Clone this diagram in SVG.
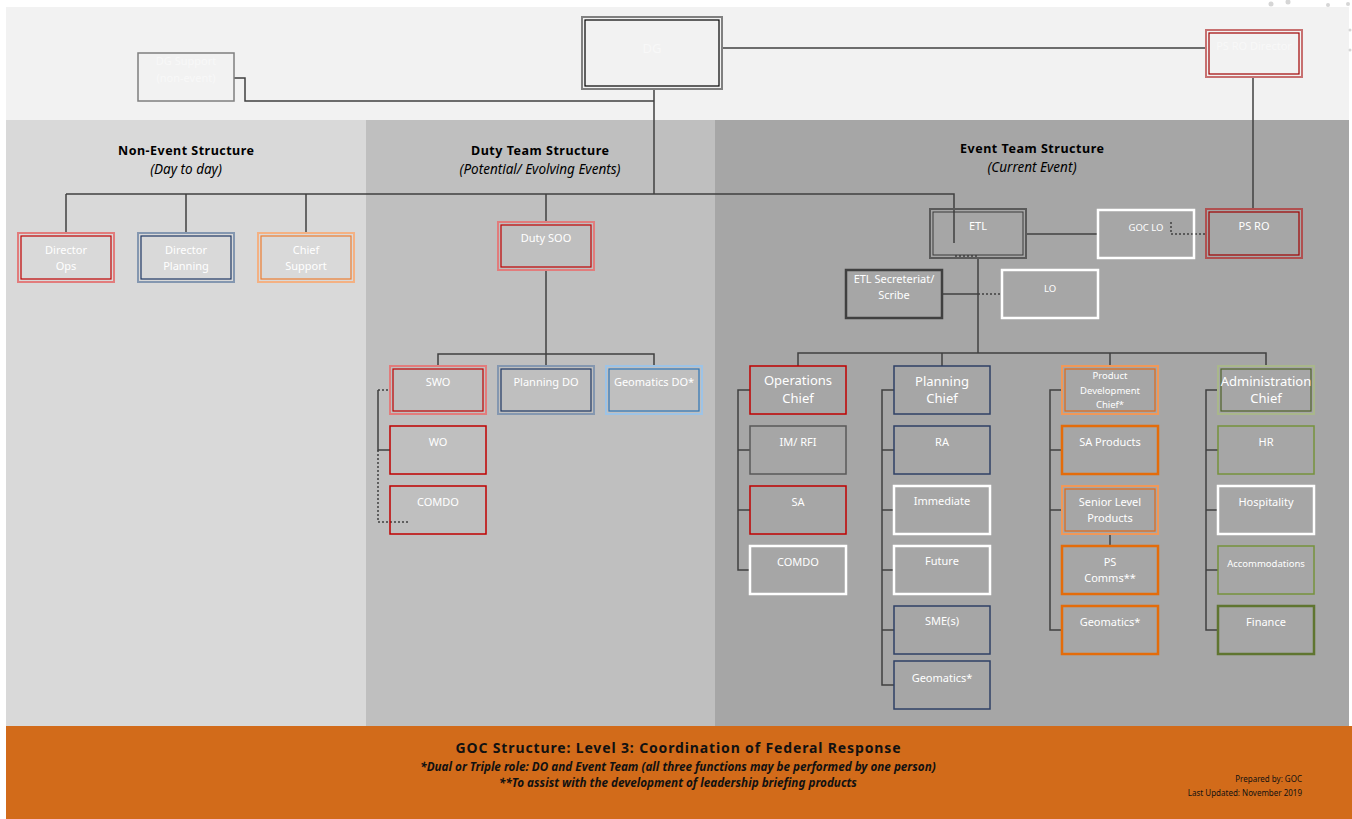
<svg xmlns="http://www.w3.org/2000/svg" width="1352" height="819" viewBox="0 0 1352 819">
<style>
  .lbl{font-family:"Noto Sans","Open Sans",sans-serif;font-size:11px;fill:#ffffff;text-anchor:middle}
  .big{font-size:13px}
  .sm{font-size:9.5px}
  .hd{font-family:"Noto Sans","Open Sans",sans-serif;font-size:12.5px;font-weight:bold;fill:#000;text-anchor:middle}
  .hi{font-family:"Noto Sans","Open Sans",sans-serif;font-size:13.5px;font-style:italic;fill:#000;text-anchor:middle}
  .ft{font-family:"Noto Sans","Open Sans",sans-serif;fill:#111;text-anchor:middle;font-weight:bold}
  .fr{font-family:"Noto Sans","Open Sans",sans-serif;fill:#111;text-anchor:end;font-size:8px}
  .ln{stroke:#404040;stroke-width:1.5;fill:none}
  .dot{stroke:#404040;stroke-width:1.5;stroke-dasharray:2 2;fill:none}
  rect{fill:none}
  .redO{stroke:#e27c7c;stroke-width:2}   .redI{stroke:#c00000;stroke-width:1.2}
  .navO{stroke:#8497b0;stroke-width:2}   .navI{stroke:#1f3864;stroke-width:1.2}
  .orgO{stroke:#f4b183;stroke-width:2}   .orgI{stroke:#ed7d31;stroke-width:1.2}
  .bluO{stroke:#9dc3e6;stroke-width:2}   .bluI{stroke:#2e75b6;stroke-width:1.2}
  .oliO{stroke:#a9b78b;stroke-width:2}   .oliI{stroke:#4f6228;stroke-width:1.2}
  .red{stroke:#c00000;stroke-width:1.5}
  .nav{stroke:#2f4066;stroke-width:1.5}
  .gry{stroke:#595959;stroke-width:1.5}
  .wht{stroke:#ffffff;stroke-width:2.5}
  .org{stroke:#e46c0a;stroke-width:2.5}
  .oli{stroke:#76923c;stroke-width:1.5}
</style>

<!-- page background and bands -->
<rect x="0" y="0" width="1352" height="819" style="fill:#ffffff"/>
<rect x="6" y="7" width="1343" height="114" style="fill:#f2f2f2"/>
<rect x="6" y="120" width="360" height="606" style="fill:#d9d9d9"/>
<rect x="366" y="120" width="349" height="606" style="fill:#bfbfbf"/>
<rect x="715" y="120" width="634" height="606" style="fill:#a6a6a6"/>
<rect x="6" y="726" width="1346" height="93" style="fill:#d26b1a"/>

<!-- scanner specks along the right margin -->
<g fill="#d6d6d6">
  <circle cx="1271" cy="4" r="2.5"/><circle cx="1288" cy="2" r="2.5"/><circle cx="1328" cy="5" r="2"/><circle cx="1348" cy="4" r="2"/>
  <circle cx="1350" cy="30" r="1.5"/><circle cx="1350" cy="50" r="1.5"/>
</g>

<!-- section headings -->
<text class="hd" x="186" y="155" textLength="136">Non-Event Structure</text>
<text class="hi" x="186" y="174">(Day to day)</text>
<text class="hd" x="540" y="155" textLength="138">Duty Team Structure</text>
<text class="hi" x="540" y="174">(Potential/ Evolving Events)</text>
<text class="hd" x="1032" y="153" textLength="144">Event Team Structure</text>
<text class="hi" x="1032" y="172">(Current Event)</text>

<!-- connectors -->
<g id="connectors">
  <polyline class="ln" points="234,78 245,78 245,101 654,101"/>
  <line class="ln" x1="654" y1="89" x2="654" y2="194"/>
  <line class="ln" x1="722" y1="48" x2="1206" y2="48"/>
  <line class="ln" x1="1253" y1="77" x2="1253" y2="209"/>
  <polyline class="ln" points="66,194 954,194 954,243"/>
  <line class="ln" x1="66" y1="194" x2="66" y2="233"/>
  <line class="ln" x1="186" y1="194" x2="186" y2="233"/>
  <line class="ln" x1="306" y1="194" x2="306" y2="233"/>
  <line class="ln" x1="546" y1="194" x2="546" y2="222"/>
  <!-- duty team -->
  <line class="ln" x1="546" y1="270" x2="546" y2="366"/>
  <polyline class="ln" points="438,366 438,354 654,354 654,366"/>
  <line class="dot" x1="378" y1="390" x2="390" y2="390"/>
  <polyline class="ln" points="378,390 378,450 390,450"/>
  <polyline class="dot" points="378,450 378,522 408,522"/>
  <!-- event team leader links -->
  <line class="ln" x1="1026" y1="234" x2="1098" y2="234"/>
  <polyline class="dot" points="1171,222 1171,234 1206,234"/>
  <line class="dot" x1="955" y1="256" x2="978" y2="256"/>
  <line class="ln" x1="978" y1="258" x2="978" y2="353"/>
  <line class="ln" x1="942" y1="294" x2="978" y2="294"/>
  <line class="dot" x1="978" y1="294" x2="1002" y2="294"/>
  <polyline class="ln" points="798,366 798,353 1266,353 1266,366"/>
  <line class="ln" x1="942" y1="353" x2="942" y2="366"/>
  <line class="ln" x1="1110" y1="353" x2="1110" y2="366"/>
  <!-- operations branch -->
  <polyline class="ln" points="750,390 738,390 738,570 750,570"/>
  <line class="ln" x1="738" y1="450" x2="750" y2="450"/>
  <line class="ln" x1="738" y1="510" x2="750" y2="510"/>
  <!-- planning branch -->
  <polyline class="ln" points="894,390 882,390 882,685 894,685"/>
  <line class="ln" x1="882" y1="450" x2="894" y2="450"/>
  <line class="ln" x1="882" y1="510" x2="894" y2="510"/>
  <line class="ln" x1="882" y1="570" x2="894" y2="570"/>
  <line class="ln" x1="882" y1="630" x2="894" y2="630"/>
  <!-- product development branch -->
  <polyline class="ln" points="1062,390 1050,390 1050,630 1062,630"/>
  <line class="ln" x1="1050" y1="450" x2="1062" y2="450"/>
  <line class="ln" x1="1050" y1="510" x2="1062" y2="510"/>
  <line class="ln" x1="1110" y1="534" x2="1110" y2="546"/>
  <!-- administration branch -->
  <polyline class="ln" points="1218,390 1206,390 1206,630 1218,630"/>
  <line class="ln" x1="1206" y1="450" x2="1218" y2="450"/>
  <line class="ln" x1="1206" y1="510" x2="1218" y2="510"/>
  <line class="ln" x1="1206" y1="570" x2="1218" y2="570"/>
</g>

<!-- top level -->
<g id="dg">
  <rect x="582" y="17" width="140" height="72" style="fill:#f2f2f2;stroke:#808080;stroke-width:2"/>
  <rect x="585" y="20" width="134" height="66" style="stroke:#000;stroke-width:1.2"/>
  <text class="lbl big" x="652" y="53" style="fill:#f8f8f8">DG</text>
</g>
<g id="dg-support">
  <rect x="138" y="53" width="96" height="48" style="stroke:#7f7f7f;stroke-width:1.5"/>
  <text class="lbl" x="186" y="65" style="fill:#f8f8f8">DG Support</text>
  <text class="lbl" x="186" y="82" style="fill:#f8f8f8">(non-event)</text>
</g>
<g id="ps-ro-director">
  <rect x="1206" y="30" width="96" height="47" style="stroke:#c77070;stroke-width:2"/>
  <rect x="1209" y="33" width="90" height="41" style="stroke:#a00000;stroke-width:1.2"/>
  <text class="lbl" x="1254" y="50" style="fill:#f8f8f8">PS RO Director</text>
</g>

<!-- non-event structure -->
<g id="director-ops">
  <rect class="redO" x="18" y="233" width="96" height="49"/><rect class="redI" x="21" y="236" width="90" height="43"/>
  <text class="lbl" x="66" y="254">Director</text><text class="lbl" x="66" y="270">Ops</text>
</g>
<g id="director-planning">
  <rect class="navO" x="138" y="233" width="96" height="49"/><rect class="navI" x="141" y="236" width="90" height="43"/>
  <text class="lbl" x="186" y="254">Director</text><text class="lbl" x="186" y="270">Planning</text>
</g>
<g id="chief-support">
  <rect class="orgO" x="258" y="233" width="96" height="49"/><rect class="orgI" x="261" y="236" width="90" height="43"/>
  <text class="lbl" x="306" y="254">Chief</text><text class="lbl" x="306" y="270">Support</text>
</g>

<!-- duty team structure -->
<g id="duty-soo">
  <rect class="redO" x="498" y="222" width="96" height="48"/><rect class="redI" x="501" y="225" width="90" height="42"/>
  <text class="lbl" x="546" y="242">Duty SOO</text>
</g>
<g id="swo">
  <rect class="redO" x="390" y="366" width="96" height="48"/><rect class="redI" x="393" y="369" width="90" height="42"/>
  <text class="lbl" x="438" y="386">SWO</text>
</g>
<g id="planning-do">
  <rect class="navO" x="498" y="366" width="96" height="48"/><rect class="navI" x="501" y="369" width="90" height="42"/>
  <text class="lbl" x="546" y="386">Planning DO</text>
</g>
<g id="geomatics-do">
  <rect class="bluO" x="606" y="366" width="96" height="48"/><rect class="bluI" x="609" y="369" width="90" height="42"/>
  <text class="lbl" x="654" y="386">Geomatics DO*</text>
</g>
<g id="wo">
  <rect class="red" x="390" y="426" width="96" height="48"/>
  <text class="lbl" x="438" y="446">WO</text>
</g>
<g id="duty-comdo">
  <rect class="red" x="390" y="486" width="96" height="48"/>
  <text class="lbl" x="438" y="506">COMDO</text>
</g>

<!-- event team structure -->
<g id="etl">
  <rect x="930" y="209" width="96" height="49" style="stroke:#5a5a5a;stroke-width:2"/>
  <rect x="933" y="212" width="90" height="43" style="stroke:#3a3a3a;stroke-width:1"/>
  <text class="lbl" x="978" y="230">ETL</text>
</g>
<g id="goc-lo">
  <rect class="wht" x="1098" y="210" width="96" height="48"/>
  <text class="lbl sm" x="1146" y="231">GOC LO</text>
</g>
<g id="ps-ro">
  <rect x="1206" y="209" width="96" height="49" style="stroke:#b05050;stroke-width:2"/>
  <rect x="1209" y="212" width="90" height="43" style="stroke:#a00000;stroke-width:1.2"/>
  <text class="lbl" x="1254" y="230">PS RO</text>
</g>
<g id="etl-secretariat">
  <rect x="846" y="270" width="96" height="48" style="stroke:#404040;stroke-width:2.5"/>
  <text class="lbl" x="894" y="283">ETL Secreteriat/</text>
  <text class="lbl" x="894" y="299">Scribe</text>
</g>
<g id="lo">
  <rect class="wht" x="1002" y="270" width="96" height="48"/>
  <text class="lbl sm" x="1050" y="292">LO</text>
</g>

<!-- operations -->
<g id="operations-chief">
  <rect class="red" x="750" y="366" width="96" height="48"/>
  <text class="lbl big" x="798" y="385">Operations</text><text class="lbl big" x="798" y="403">Chief</text>
</g>
<g id="im-rfi"><rect class="gry" x="750" y="426" width="96" height="48"/><text class="lbl" x="798" y="446">IM/ RFI</text></g>
<g id="sa"><rect class="red" x="750" y="486" width="96" height="48"/><text class="lbl" x="798" y="506">SA</text></g>
<g id="ops-comdo"><rect class="wht" x="750" y="546" width="96" height="48"/><text class="lbl" x="798" y="566">COMDO</text></g>

<!-- planning -->
<g id="planning-chief">
  <rect class="nav" x="894" y="366" width="96" height="48"/>
  <text class="lbl big" x="942" y="386">Planning</text><text class="lbl big" x="942" y="403">Chief</text>
</g>
<g id="ra"><rect class="nav" x="894" y="426" width="96" height="48"/><text class="lbl" x="942" y="446">RA</text></g>
<g id="immediate"><rect class="wht" x="894" y="486" width="96" height="48"/><text class="lbl" x="942" y="505">Immediate</text></g>
<g id="future"><rect class="wht" x="894" y="546" width="96" height="48"/><text class="lbl" x="942" y="565">Future</text></g>
<g id="smes"><rect class="nav" x="894" y="606" width="96" height="48"/><text class="lbl" x="942" y="625">SME(s)</text></g>
<g id="planning-geomatics"><rect class="nav" x="894" y="661" width="96" height="48"/><text class="lbl" x="942" y="682">Geomatics*</text></g>

<!-- product development -->
<g id="product-development-chief">
  <rect class="orgO" x="1062" y="366" width="96" height="48" style="stroke:#f09858"/><rect class="orgI" x="1065" y="369" width="90" height="42" style="stroke:#e06a1a"/>
  <text class="lbl sm" x="1110" y="379">Product</text>
  <text class="lbl sm" x="1110" y="394">Development</text>
  <text class="lbl sm" x="1110" y="408">Chief*</text>
</g>
<g id="sa-products"><rect class="org" x="1062" y="426" width="96" height="48"/><text class="lbl" x="1110" y="446">SA Products</text></g>
<g id="senior-level-products">
  <rect class="orgO" x="1062" y="486" width="96" height="48" style="stroke:#f09858"/><rect class="orgI" x="1065" y="489" width="90" height="42" style="stroke:#e06a1a"/>
  <text class="lbl" x="1110" y="506">Senior Level</text><text class="lbl" x="1110" y="522">Products</text>
</g>
<g id="ps-comms"><rect class="org" x="1062" y="546" width="96" height="48"/><text class="lbl" x="1110" y="566">PS</text><text class="lbl" x="1110" y="582">Comms**</text></g>
<g id="product-geomatics"><rect class="org" x="1062" y="606" width="96" height="48"/><text class="lbl" x="1110" y="626">Geomatics*</text></g>

<!-- administration -->
<g id="administration-chief">
  <rect class="oliO" x="1218" y="366" width="96" height="48"/><rect class="oliI" x="1221" y="369" width="90" height="42"/>
  <text class="lbl big" x="1266" y="386">Administration</text><text class="lbl big" x="1266" y="403">Chief</text>
</g>
<g id="hr"><rect class="oli" x="1218" y="426" width="96" height="48"/><text class="lbl" x="1266" y="446">HR</text></g>
<g id="hospitality"><rect class="wht" x="1218" y="486" width="96" height="48"/><text class="lbl" x="1266" y="506">Hospitality</text></g>
<g id="accommodations"><rect class="oli" x="1218" y="546" width="96" height="48"/><text class="lbl sm" x="1266" y="567">Accommodations</text></g>
<g id="finance"><rect x="1218" y="606" width="96" height="48" style="stroke:#5f7530;stroke-width:2.5"/><text class="lbl" x="1266" y="626">Finance</text></g>

<!-- footer -->
<text class="ft" x="678" y="753" style="font-size:14px" textLength="445">GOC Structure: Level 3: Coordination of Federal Response</text>
<text class="ft" x="678" y="771" style="font-size:11.7px;font-style:italic">*Dual or Triple role: DO and Event Team (all three functions may be performed by one person)</text>
<text class="ft" x="678" y="787" style="font-size:11.7px;font-style:italic">**To  assist with the development of leadership briefing products</text>
<text class="fr" x="1302" y="782">Prepared by: GOC</text>
<text class="fr" x="1302" y="796">Last Updated: November 2019</text>
</svg>
